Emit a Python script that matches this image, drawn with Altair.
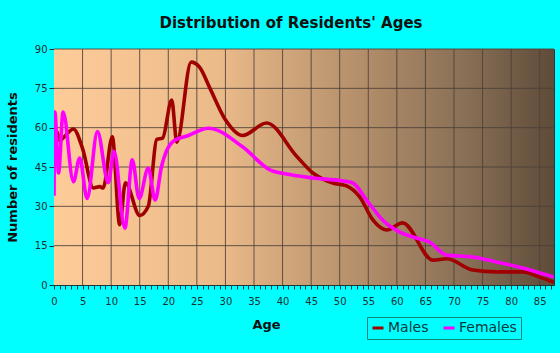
import altair as alt
import pandas as pd

# Males
ages_m = [0, 0.5, 1, 2, 3.4, 5, 6.9, 8, 8.6, 10.2, 11.5, 12.5, 15, 16.5, 18, 19,
          20.6, 21.5, 24, 25.5, 27.3, 30, 33, 37.2, 42.5, 45.3, 48.8, 51.2, 53.5,
          55.8, 58.2, 61, 66.3, 68.7, 73.3, 77.4, 82, 85, 87.5]
males = [54, 58.5, 55, 57, 59.5, 52, 37, 37.5, 37, 56.5, 23, 39, 26.5, 30, 55.5, 56,
         70.5, 54.5, 85, 83, 75, 63, 57, 61.8, 49, 42.7, 38.9, 37.8, 33.6,
         24.8, 21, 23.7, 9.5, 10, 5.7, 5, 5, 3, 1]

# Females
ages_f = [0, 0.15, 0.8, 1.6, 3.4, 4.5, 5.8, 7.6, 9.5, 10.5, 12.4, 13.7, 14.9, 16.5,
          17.7, 18.8, 20.8, 23.5, 27, 33, 37.8, 40.7, 45.3, 50.5, 52.3, 54.7, 57.5,
          60.5, 62.8, 65.7, 68.7, 73.3, 77.4, 82, 87.5]
females = [34, 66, 42.7, 66, 39.4, 48.4, 33, 58.5, 39, 51, 21.7, 47.7, 33, 44.6,
           32.4, 45, 54.7, 57, 59.8, 52.7, 43.9, 42.3, 40.8, 39.7, 38.9, 32.4, 24.8,
           20.2, 18.3, 16.4, 11.4, 10.7, 8.8, 6.5, 3]

x_ticks = list(range(0, 90, 5))
x_minor = list(range(0, 88))
y_ticks = [0, 15, 30, 45, 60, 75, 90]
series = ["Males", "Females"]
colors = ["#A00000", "#FF00FF"]
title_text = "Distribution of Residents' Ages"

W, H = 500, 236

df_m = pd.DataFrame({"age": ages_m, "n": males, "sex": "Males"})
df_f = pd.DataFrame({"age": ages_f, "n": females, "sex": "Females"})
gx = pd.DataFrame({"v": x_ticks[1:]})
gy = pd.DataFrame({"v": y_ticks[1:]})

xscale = alt.Scale(domain=[0, 87.5], nice=False, zero=False)
yscale = alt.Scale(domain=[0, 90], nice=False)
cscale = alt.Scale(domain=series, range=colors)

grad = alt.LinearGradient(
    gradient="linear",
    stops=[
        alt.GradientStop(color="#FDCC99", offset=0),
        alt.GradientStop(color="#EBBA89", offset=0.33),
        alt.GradientStop(color="#B48F6B", offset=0.61),
        alt.GradientStop(color="#876E55", offset=0.83),
        alt.GradientStop(color="#5E4B39", offset=1),
    ],
    x1=0, x2=1, y1=0, y2=0,
)

axis_x = alt.Axis(
    values=x_minor,
    labelExpr="datum.value % 5 === 0 ? datum.label : ''",
    grid=False, tickSize=4, tickColor="#1a3a3a", domainColor="#1a3a3a",
    labelFont="DejaVu Sans", labelFontSize=10, labelColor="#1a3030",
    labelPadding=7, labelFlush=False, labelOverlap=False,
    title="Age", titleFont="DejaVu Sans", titleFontSize=13, titleFontWeight="bold",
    titleColor="#111111", titleX=212, titleY=39, titleBaseline="middle",
)
axis_y = alt.Axis(
    values=y_ticks, grid=False, tickSize=5, tickColor="#1a3a3a", domainColor="#1a3a3a",
    labelFont="DejaVu Sans", labelFontSize=10, labelColor="#1a3030", labelPadding=2,
    title="Number of residents", titleFont="DejaVu Sans", titleFontSize=13,
    titleFontWeight="bold", titleColor="#111111", titleX=-42, titleY=118,
    titleBaseline="middle", titleAlign="center", titleAngle=-90,
)

legend = alt.Legend(
    title=None, orient="none", legendX=313, legendY=268, direction="horizontal",
    strokeColor="#148080", padding=4, symbolType="stroke", symbolSize=120,
    symbolStrokeWidth=3, labelFont="DejaVu Sans", labelFontSize=14,
    labelColor="#0a3a3a", columnPadding=8, labelOffset=3,
)

bg = alt.Chart(pd.DataFrame({"a": [0]})).mark_rect(color=grad).encode(
    x=alt.value(0), x2=alt.value(W), y=alt.value(0), y2=alt.value(H)
)

gridx = alt.Chart(gx).mark_rule(color="#4a4038", strokeWidth=1, opacity=0.85).encode(
    x=alt.X("v:Q", scale=xscale, axis=axis_x)
)
gridy = alt.Chart(gy).mark_rule(color="#4a4038", strokeWidth=1, opacity=0.85).encode(
    y=alt.Y("v:Q", scale=yscale, axis=axis_y)
)

line_m = alt.Chart(df_m).mark_line(strokeWidth=3.6, interpolate="monotone", clip=True).encode(
    x=alt.X("age:Q", scale=xscale, axis=axis_x),
    y=alt.Y("n:Q", scale=yscale, axis=axis_y),
    color=alt.Color("sex:N", scale=cscale, legend=legend),
)
line_f = alt.Chart(df_f).mark_line(strokeWidth=3.6, interpolate="monotone", clip=True).encode(
    x=alt.X("age:Q", scale=xscale, axis=axis_x),
    y=alt.Y("n:Q", scale=yscale, axis=axis_y),
    color=alt.Color("sex:N", scale=cscale, legend=legend),
)

title = alt.Chart(pd.DataFrame({"t": [title_text]})).mark_text(
    font="DejaVu Sans", fontSize=15, fontWeight="bold", color="#111111",
    align="center", baseline="middle",
).encode(x=alt.value(237), y=alt.value(-26), text="t:N")

chart = alt.layer(bg, gridx, gridy, line_m, line_f, title).properties(
    width=W, height=H,
    autosize=alt.AutoSizeParams(type="none"),
    padding={"left": 54, "top": 49, "right": 6, "bottom": 68},
    background="#00FFFF",
).configure_view(stroke="#333333", strokeWidth=1)

chart.save("out.html", embed_options={"renderer": "svg", "actions": False})
